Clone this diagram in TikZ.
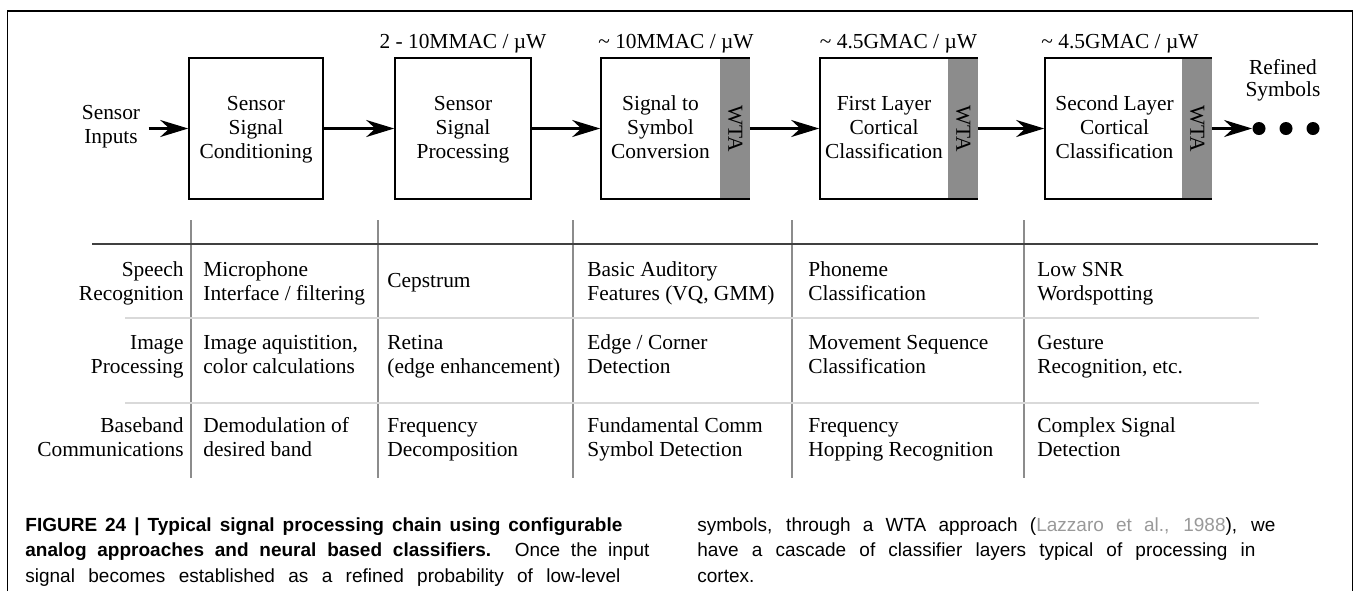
\documentclass[tikz,border=0pt]{standalone}
\usepackage{fontspec}
\setmainfont{Liberation Serif}
\newfontfamily\capfont{Liberation Sans}
\usetikzlibrary{arrows.meta}
\newcommand{\uW}    {µW}
\newcommand{\tld}   {\textasciitilde\ }
\newcommand{\fsz}   {\fontsize{10.7}{12}\selectfont}
\newcommand{\csz}   {\capfont\fontsize{9.5}{10}\selectfont}
\newcommand{\one}[1]{#1\strut}
\newcommand{\two}[2]{#1\strut\\#2\strut}
\newcommand{\three}[3]{#1\strut\\#2\strut\\#3\strut}

\begin{document}
\begin{tikzpicture}[x=0.5pt,y=-0.5pt,font=\fsz,
   blk/.style={draw,line width=0.8pt,minimum height=70.5pt,inner sep=0pt},
   wta/.style={fill=black!45,minimum width=14.9pt,minimum height=69.7pt,inner sep=0pt,anchor=east},
   txt/.style={align=center,inner sep=0pt},
   arr/.style={-{Stealth[length=14pt,width=8.5pt]},line width=1.2pt},
   blob/.style={circle,fill,inner sep=0pt,minimum size=6.5pt},
   rh/.style={anchor=east,align=right,inner sep=0pt},
   cell/.style={anchor=west,align=left,inner sep=0pt},
   capline/.style={anchor=base west,inner sep=0pt,font=\csz}]
   \useasboundingbox (0,0) rectangle (1356,591);
   \draw[line width=0.75pt] (7.5,591) -- (7.5,11) -- (1352.5,11) -- (1352.5,591);

   \node[txt,inner sep=4pt] (inp) at (111,127) {\two{Sensor}{Inputs}};
   \node[blk,minimum width=67pt] (b1) at (256,128.5) {};
   \node[blk,minimum width=68pt] (b2) at (463,128.5) {};
   \node[blk,minimum width=74pt] (b3) at (675,128.5) {};
   \node[blk,minimum width=78.5pt] (b4) at (898.5,128.5) {};
   \node[blk,minimum width=83pt] (b5) at (1128,128.5) {};
   \node[wta] (w3) at ([xshift=0.4pt]b3.east) {\rotatebox{-90}{WTA}};
   \node[wta] (w4) at ([xshift=0.4pt]b4.east) {\rotatebox{-90}{WTA}};
   \node[wta] (w5) at ([xshift=0.4pt]b5.east) {\rotatebox{-90}{WTA}};
   \node[txt] (t1) at (256,130) {\three{Sensor}{Signal}{Conditioning}};
   \node[txt] (t2) at (463,130) {\three{Sensor}{Signal}{Processing}};
   \node[txt] (t3) at (660.5,130) {\three{Signal to}{Symbol}{Conversion}};
   \node[txt] (t4) at (884,130) {\three{First Layer}{Cortical}{Classification}};
   \node[txt] (t5) at (1114.5,130) {\three{Second Layer}{Cortical}{Classification}};
   \node[anchor=base] (l2) at (463,48) {2 - 10MMAC / \uW};
   \node[anchor=base] (l3) at (676,48) {\tld 10MMAC / \uW};
   \node[anchor=base] (l4) at (898.5,48) {\tld 4.5GMAC / \uW};
   \node[anchor=base] (l5) at (1120,48) {\tld 4.5GMAC / \uW};
   \node[txt] (out) at (1283,80) {Refined\\[-1pt]Symbols};
   \node[blob] (d1) at (1259,128.5) {};
   \node[blob] (d2) at (1286,128.5) {};
   \node[blob] (d3) at (1313,128.5) {};
   \draw[arr] (inp.east |- b1.west) -- (b1.west);
   \draw[arr] (b1) -- (b2);
   \draw[arr] (b2) -- (b3);
   \draw[arr] (b3) -- (b4);
   \draw[arr] (b4) -- (b5);
   \draw[arr] (b5) -- (d1);

   \draw[black!45,line width=0.75pt] (191,220) -- (191,478);
   \draw[black!45,line width=0.75pt] (378,220) -- (378,478);
   \draw[black!45,line width=0.75pt] (573,220) -- (573,478);
   \draw[black!45,line width=0.75pt] (792,220) -- (792,478);
   \draw[black!45,line width=0.75pt] (1024,220) -- (1024,478);
   \draw[black!75,line width=1pt] (92,244) -- (1318,244);
   \draw[black!15,line width=0.75pt] (125,318) -- (1259,318);
   \draw[black!15,line width=0.75pt] (125,403) -- (1259,403);

   \node[rh] (r1) at (184,284) {\two{Speech}{Recognition}};
   \node[rh] (r2) at (184,357) {\two{Image}{Processing}};
   \node[rh] (r3) at (184,440) {\two{Baseband}{Communications}};
   \node[cell] (c11) at (203,284) {\two{Microphone}{Interface / filtering}};
   \node[cell] (c12) at (387,283) {\one{Cepstrum}};
   \node[cell] (c13) at (587,284) {\two{Basic Auditory}{Features (VQ, GMM)}};
   \node[cell] (c14) at (808,284) {\two{Phoneme}{Classification}};
   \node[cell] (c15) at (1037,284) {\two{Low SNR}{Wordspotting}};
   \node[cell] (c21) at (203,357) {\two{Image aquistition,}{color calculations}};
   \node[cell] (c22) at (387,357) {\two{Retina}{(edge enhancement)}};
   \node[cell] (c23) at (587,357) {\two{Edge / Corner}{Detection}};
   \node[cell] (c24) at (808,357) {\two{Movement Sequence}{Classification}};
   \node[cell] (c25) at (1037,357) {\two{Gesture}{Recognition, etc.}};
   \node[cell] (c31) at (203,440) {\two{Demodulation of}{desired band}};
   \node[cell] (c32) at (387,440) {\two{Frequency}{Decomposition}};
   \node[cell] (c33) at (587,440) {\two{Fundamental Comm}{Symbol Detection}};
   \node[cell] (c34) at (808,440) {\two{Frequency}{Hopping Recognition}};
   \node[cell] (c35) at (1037,440) {\two{Complex Signal}{Detection}};

   \node[capline] (f1) at (25,531) {\makebox[298.5pt][s]{\bfseries FIGURE 24 | Typical signal processing chain using configurable}};
   \node[capline] (f2) at (25,556.5) {\makebox[312pt][s]{{\bfseries analog approaches and neural based classifiers.} Once the input}};
   \node[capline] (f3) at (25,582) {\makebox[297.5pt][s]{signal becomes established as a refined probability of low-level}};
   \node[capline] (f4) at (697,531) {\makebox[289pt][s]{symbols, through a WTA approach (\textcolor{black!40}{Lazzaro et al., 1988}), we}};
   \node[capline] (f5) at (697,556.5) {\makebox[279pt][s]{have a cascade of classifier layers typical of processing in}};
   \node[capline] (f6) at (697,582) {cortex.};
\end{tikzpicture}
\end{document}
